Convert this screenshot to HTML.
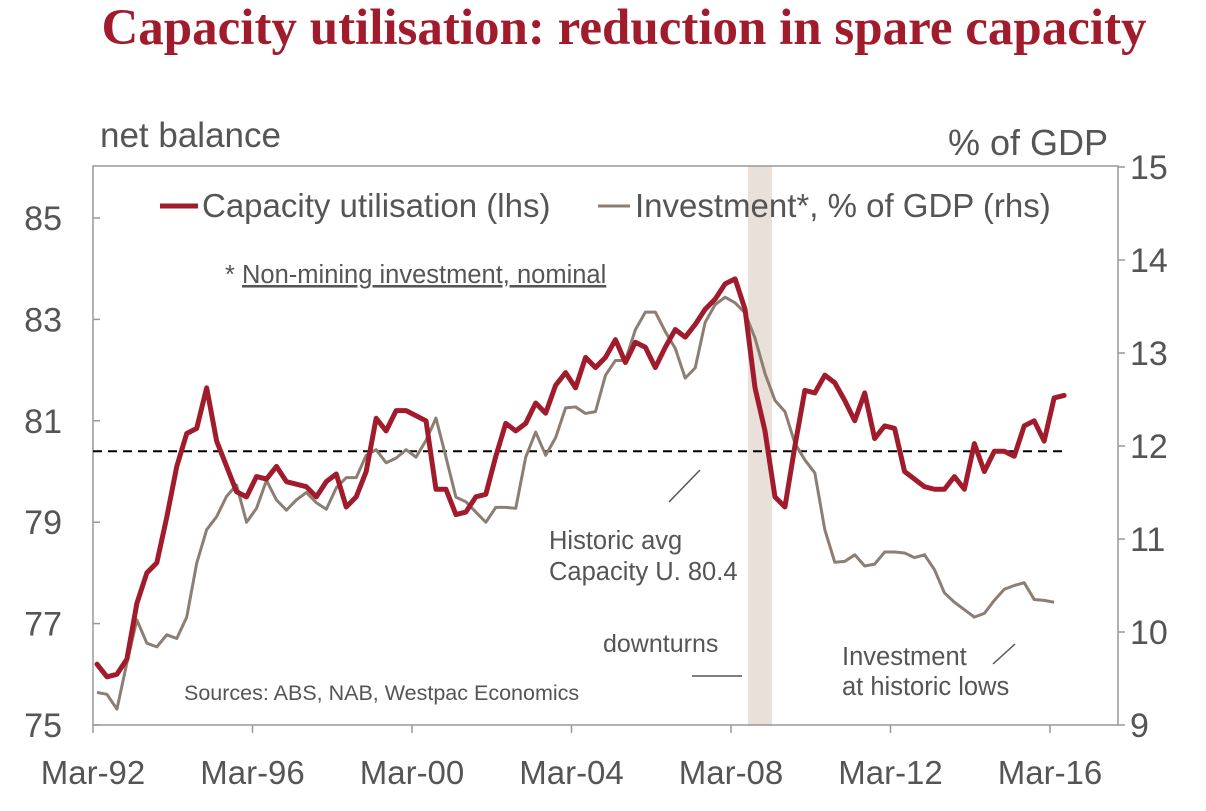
<!DOCTYPE html>
<html><head><meta charset="utf-8"><style>
body{margin:0;background:#fff;}
svg{display:block;font-family:"Liberation Sans",sans-serif;}
</style></head><body>
<svg id="chart" width="1206" height="811">
<text x="624" y="44" text-anchor="middle" font-family="Liberation Serif,serif" font-weight="bold" font-size="51" fill="#a01c2c">Capacity utilisation: reduction in spare capacity</text>
<text x="100" y="147" font-size="35" fill="#555">net balance</text>
<text x="1108" y="155" text-anchor="end" font-size="36" fill="#555">% of GDP</text>
<rect x="748" y="166" width="24" height="559" fill="#e8e0d9"/>
<rect x="93" y="166" width="1025" height="559" fill="none" stroke="#999" stroke-width="1.5"/>
<g id="axes"></g>
<g id="series"></g>
<line x1="160" y1="206" x2="198" y2="206" stroke="#a01c2c" stroke-width="5"/>
<text x="202" y="217" font-size="33" fill="#555">Capacity utilisation (lhs)</text>
<line x1="598" y1="206" x2="630" y2="206" stroke="#8c7e72" stroke-width="3"/>
<text x="635" y="217" font-size="33" fill="#555">Investment*, % of GDP (rhs)</text>
<text x="225" y="283" font-size="25.5" fill="#555">* <tspan text-decoration="underline">Non-mining investment, nominal</tspan></text>
<text x="549" y="549" font-size="25.5" fill="#555">Historic avg</text>
<text x="549" y="580" font-size="25.5" fill="#555">Capacity U. 80.4</text>
<line x1="669" y1="502" x2="700" y2="470" stroke="#555" stroke-width="1.5"/>
<text x="603" y="652" font-size="25" fill="#555">downturns</text>
<line x1="692" y1="676" x2="742" y2="676" stroke="#555" stroke-width="1.5"/>
<text x="842" y="665" font-size="25.5" fill="#555">Investment</text>
<text x="842" y="695" font-size="25.5" fill="#555">at historic lows</text>
<line x1="993" y1="664" x2="1015" y2="644" stroke="#555" stroke-width="1.5"/>
<text x="184" y="700" font-size="21.5" fill="#555">Sources: ABS, NAB, Westpac Economics</text>
</svg>
<script>
const capUtil=[76.2,75.95,76.0,76.3,77.4,78.0,78.2,79.1,80.1,80.75,80.85,81.65,80.6,80.1,79.6,79.5,79.9,79.85,80.1,79.8,79.75,79.7,79.5,79.8,79.95,79.3,79.5,80.0,81.05,80.8,81.2,81.2,81.1,81.0,79.65,79.65,79.15,79.2,79.5,79.55,80.3,80.95,80.8,80.95,81.35,81.15,81.7,81.95,81.65,82.25,82.05,82.25,82.6,82.15,82.55,82.45,82.05,82.45,82.8,82.65,82.9,83.2,83.4,83.7,83.8,83.2,81.65,80.8,79.5,79.3,80.5,81.6,81.55,81.9,81.75,81.4,81.0,81.55,80.65,80.9,80.85,80.0,79.85,79.7,79.65,79.65,79.9,79.65,80.55,80.0,80.4,80.4,80.3,80.9,81.0,80.6,81.45,81.5];
const investment=[9.35,9.33,9.17,9.67,10.13,9.88,9.84,9.97,9.93,10.16,10.74,11.1,11.24,11.46,11.58,11.18,11.33,11.63,11.42,11.31,11.42,11.5,11.39,11.32,11.55,11.66,11.66,11.9,11.96,11.82,11.87,11.96,11.88,12.06,12.3,11.88,11.45,11.4,11.29,11.18,11.34,11.34,11.33,11.88,12.15,11.9,12.09,12.41,12.42,12.35,12.37,12.76,12.92,12.92,13.25,13.44,13.44,13.23,13.05,12.73,12.84,13.33,13.52,13.6,13.54,13.43,13.16,12.78,12.49,12.37,12.03,11.85,11.71,11.1,10.75,10.76,10.83,10.71,10.73,10.86,10.86,10.85,10.8,10.83,10.67,10.42,10.32,10.24,10.16,10.2,10.34,10.46,10.5,10.53,10.35,10.34,10.32];
const historicAvg=80.4;
const leftTicks=[75,77,79,81,83,85];
const rightTicks=[9,10,11,12,13,14,15];
const xTickLabels=["Mar-92","Mar-96","Mar-00","Mar-04","Mar-08","Mar-12","Mar-16"];
const NS="http://www.w3.org/2000/svg";
const xQ=i=>97+9.97*i;
const xTick=k=>93+159.5*k;
const yL=v=>725-(v-75)*50.7;
const yR=v=>725-(v-9)*93;
function mk(tag,attrs,parent){const e=document.createElementNS(NS,tag);for(const k in attrs)e.setAttribute(k,attrs[k]);parent.appendChild(e);return e;}
const ax=document.getElementById('axes'),sr=document.getElementById('series');
leftTicks.forEach(v=>{
 const t=mk('line',{x1:93,x2:100,y1:yL(v),y2:yL(v),stroke:'#999','stroke-width':1.5},ax);
 
 
 const l=mk('text',{x:62,y:yL(v)+12,'text-anchor':'end','font-size':34,fill:'#555'},ax);l.textContent=v;
 
 
});
rightTicks.forEach(v=>{
 const t=mk('line',{x1:1118,x2:1125,y1:yR(v),y2:yR(v),stroke:'#999','stroke-width':1.5},ax);
 
 
 const l=mk('text',{x:1130,y:yR(v)+12,'font-size':34,fill:'#555'},ax);l.textContent=v;
 
 
});
xTickLabels.forEach((s,k)=>{
 const t=mk('line',{x1:xTick(k),x2:xTick(k),y1:725,y2:733,stroke:'#999','stroke-width':1.5},ax);
 
 
 const l=mk('text',{x:xTick(k),y:784,'text-anchor':'middle','font-size':33,fill:'#555'},ax);l.textContent=s;
 
 
});
const avg=mk('line',{x1:93,x2:1062,y1:yL(historicAvg),y2:yL(historicAvg),stroke:'#000','stroke-width':2,'stroke-dasharray':'9,6'},sr);


const inv=mk('polyline',{points:investment.map((v,i)=>xQ(i)+','+yR(v)).join(' '),fill:'none',stroke:'#8c7e72','stroke-width':3,'stroke-linejoin':'round'},sr);


const cu=mk('polyline',{points:capUtil.map((v,i)=>xQ(i)+','+yL(v)).join(' '),fill:'none',stroke:'#a01c2c','stroke-width':5,'stroke-linejoin':'round','stroke-linecap':'round'},sr);


</script>
</body></html>
